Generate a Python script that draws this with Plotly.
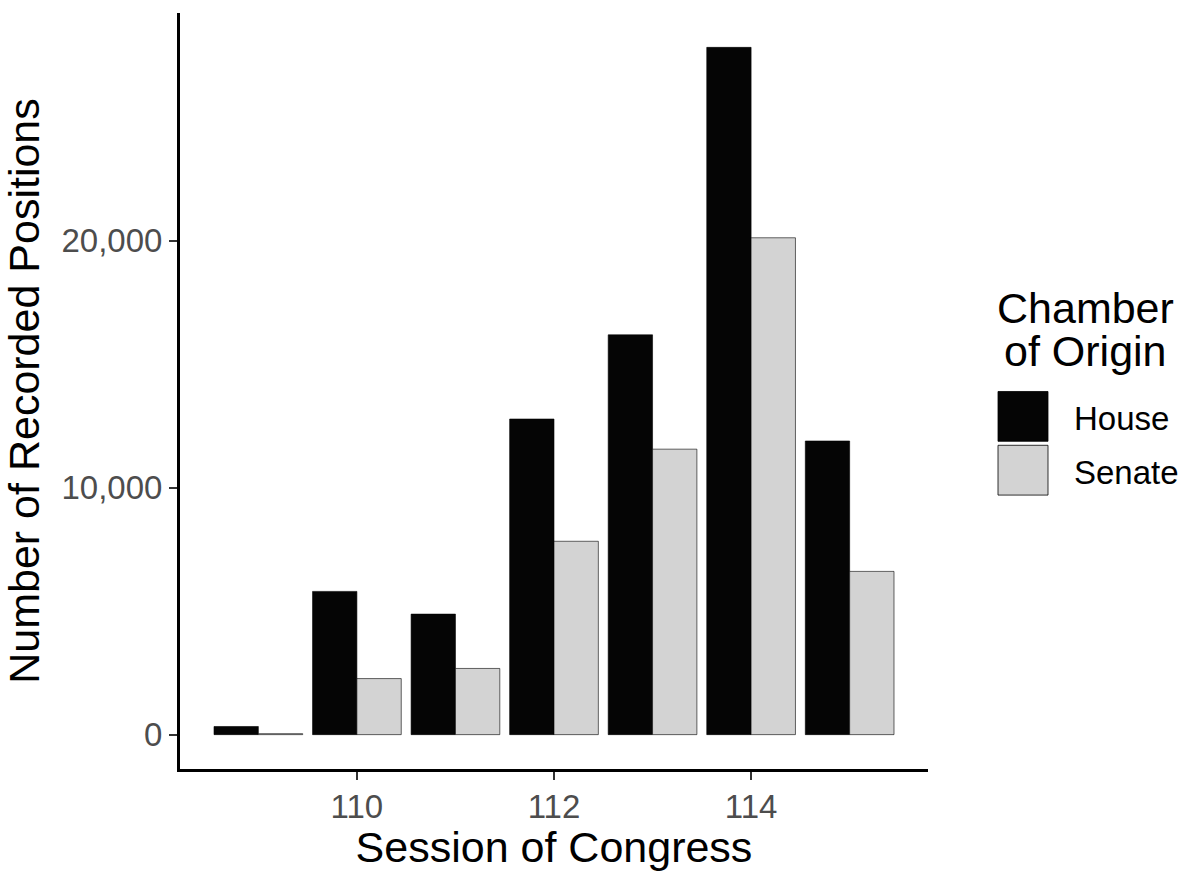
import plotly.graph_objects as go

sessions = [109, 110, 111, 112, 113, 114, 115]
house = [330, 5800, 4880, 12780, 16190, 27830, 11890]
senate = [40, 2270, 2680, 7830, 11560, 20120, 6610]
y_ticks = [0, 10000, 20000]
x_ticks = [110, 112, 114]

FONT = "Liberation Sans, Arial, Helvetica, sans-serif"
W, H = 1186, 871
L, R, T, B = 180, 258, 13, 99
pw, ph = W - L - R, H - T - B

def px(x):
    return (x - L) / pw

def py(y):
    return (H - B - y) / ph

fig = go.Figure()
fig.add_trace(go.Bar(x=sessions, y=house, name="House",
                     marker=dict(color="#050505", line=dict(color="black", width=0.6))))
fig.add_trace(go.Bar(x=sessions, y=senate, name="Senate",
                     marker=dict(color="#D3D3D3", line=dict(color="black", width=0.6))))

ymax = max(house)
pad = 0.05 * ymax
xpad = 0.05 * (max(sessions) - min(sessions) + 0.9)

fig.update_layout(
    width=W, height=H,
    margin=dict(l=L, r=R, t=T, b=B, pad=0),
    paper_bgcolor="white", plot_bgcolor="white",
    barmode="group", bargap=0.1, bargroupgap=0,
    showlegend=False,
    font=dict(family=FONT, color="black"),
)
fig.update_xaxes(
    range=[min(sessions) - 0.45 - xpad, max(sessions) + 0.45 + xpad],
    tickvals=x_ticks, ticktext=[str(v) for v in x_ticks],
    showgrid=False, zeroline=False,
    showline=True, linecolor="black", linewidth=3,
    ticks="outside", ticklen=8, tickwidth=2, tickcolor="#333333",
    tickfont=dict(size=33, color="#4D4D4D", family=FONT),
    ticklabelstandoff=-2,
    title=dict(text="Session of Congress", font=dict(size=43, color="black", family=FONT), standoff=4),
)
fig.update_yaxes(
    range=[-pad, ymax + pad],
    tickvals=y_ticks, ticktext=[f"{v:,}" for v in y_ticks],
    showgrid=False, zeroline=False,
    showline=True, linecolor="black", linewidth=3,
    ticks="outside", ticklen=8, tickwidth=2, tickcolor="#333333",
    tickfont=dict(size=33, color="#4D4D4D", family=FONT),
    title=dict(text="Number of Recorded Positions", font=dict(size=43, color="black", family=FONT), standoff=10),
)

# Custom legend (large keys like ggplot)
for txt, yc in [("Chamber", 309), ("of Origin", 352)]:
    fig.add_annotation(x=px(1085), y=py(yc), xref="paper", yref="paper",
                       text=txt, showarrow=False, align="center",
                       xanchor="center", yanchor="middle",
                       font=dict(size=43, color="black", family=FONT))
keys = [("House", "#050505", 393), ("Senate", "#D3D3D3", 447)]
for name, col, top in keys:
    fig.add_shape(type="rect", xref="paper", yref="paper",
                  x0=px(998), x1=px(1048), y0=py(top + 50), y1=py(top),
                  fillcolor=col, line=dict(color="black", width=0.8))
    fig.add_annotation(x=px(1072), y=py(top + 27), xref="paper", yref="paper",
                       text=name, showarrow=False, xanchor="left", yanchor="middle",
                       font=dict(size=33, color="black", family=FONT))

fig.write_html("out.html")
